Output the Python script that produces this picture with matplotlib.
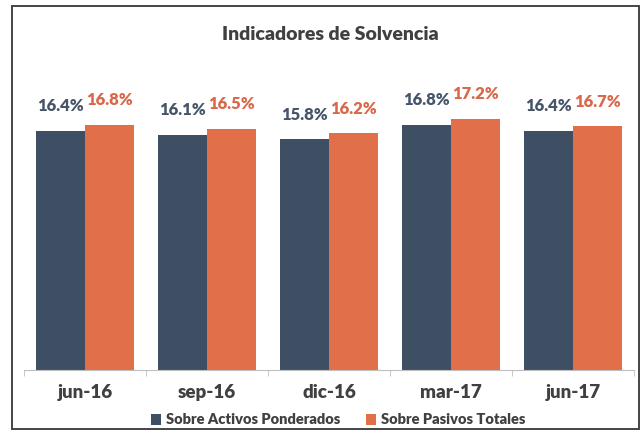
import matplotlib
matplotlib.use('Agg')
import matplotlib.pyplot as plt
import numpy as np
from matplotlib.patches import Rectangle

# data
periods = ['jun-16', 'sep-16', 'dic-16', 'mar-17', 'jun-17']
activos_ponderados = [16.4, 16.1, 15.8, 16.8, 16.4]
pasivos_totales = [16.8, 16.5, 16.2, 17.2, 16.7]
series_names = ['Sobre Activos Ponderados', 'Sobre Pasivos Totales']

dark = '#3E4F63'
orange = '#E06F4A'
dark_txt = '#46556A'
orange_txt = '#D9674A'
text_gray = '#404040'

plt.rcParams['font.family'] = ['Lato', 'DejaVu Sans']

fig = plt.figure(figsize=(6.41, 4.33), dpi=100)
ax = fig.add_axes([24 / 641, 1 - 370 / 433, 610 / 641, 292 / 433])

x = np.arange(len(periods))
w = 0.4
b1 = ax.bar(x - w / 2, activos_ponderados, w, color=dark, label=series_names[0])
b2 = ax.bar(x + w / 2, pasivos_totales, w, color=orange, label=series_names[1])

for bars, vals, col in [(b1, activos_ponderados, dark_txt), (b2, pasivos_totales, orange_txt)]:
    for r, v in zip(bars, vals):
        ax.annotate(f'{v:.1f}%', (r.get_x() + r.get_width() / 2, v),
                    xytext=(0, 12), textcoords='offset points',
                    ha='center', va='bottom', fontsize=12, fontweight='heavy', color=col)

ax.set_xlim(-0.5, len(periods) - 0.5)
ax.set_ylim(0, 20)
ax.set_yticks([])
for s in ['top', 'right', 'left']:
    ax.spines[s].set_visible(False)
ax.spines['bottom'].set_color('#BFBFBF')
ax.set_xticks(np.arange(len(periods) + 1) - 0.5, minor=True)
ax.set_xticks(x)
ax.set_xticklabels(periods, fontsize=13.5, fontweight='heavy', color=text_gray)
ax.tick_params(axis='x', which='major', length=0, pad=10)
ax.tick_params(axis='x', which='minor', length=4, color='#BFBFBF')

fig.text(330 / 641, 1 - 35 / 433, 'Indicadores de Solvencia', ha='center', va='center',
         fontsize=14, fontweight='heavy', color=text_gray)

fig.legend(loc='center', bbox_to_anchor=(338 / 641, 1 - 420 / 433), ncol=2, frameon=False,
           handlelength=0.7, handleheight=0.7, handletextpad=0.3, columnspacing=1.8,
           prop={'size': 10.5, 'weight': 'heavy'}, labelcolor=text_gray)

# outer frame
fig.patches.append(Rectangle((12 / 641, 4 / 433), 627 / 641, 423 / 433, transform=fig.transFigure,
                             fill=False, edgecolor='#444444', linewidth=1.4))

fig.savefig('out.png', dpi=100)
plt.close(fig)
